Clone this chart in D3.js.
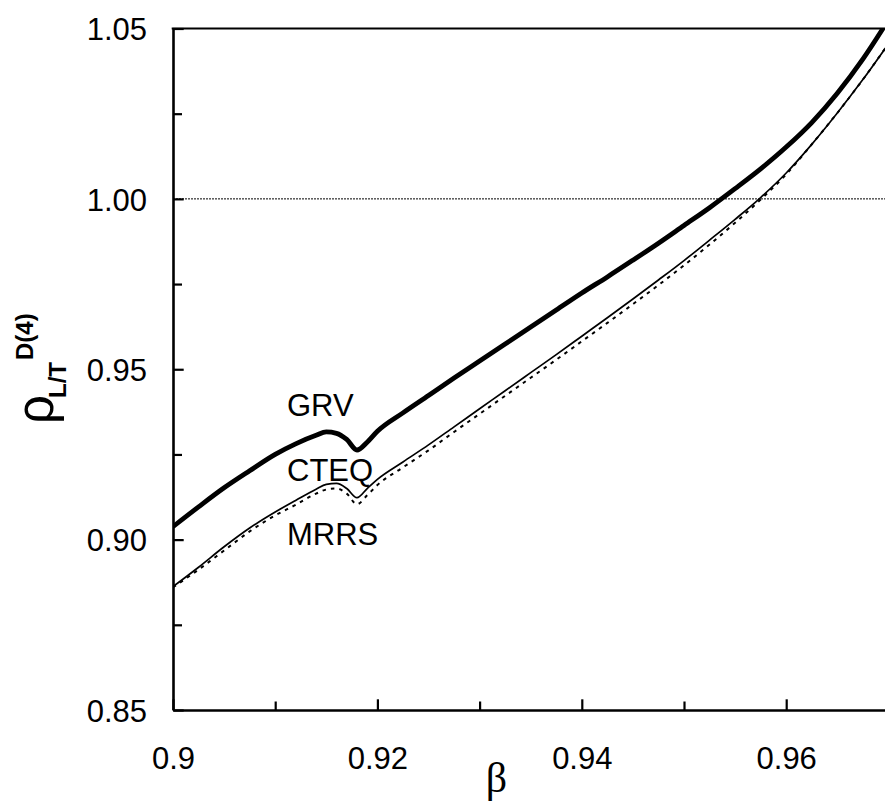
<!DOCTYPE html>
<html>
<head>
<meta charset="utf-8">
<script src="https://cdn.jsdelivr.net/npm/d3@7"></script>
<style>
  html, body { margin: 0; padding: 0; background: #fff; }
  svg { display: block; }
</style>
</head>
<body>
<svg id="chart" width="885" height="807"></svg>
<script>
// ---------------- data ----------------
const beta = [0.900, 0.9025, 0.905, 0.9075, 0.910, 0.912, 0.914, 0.915, 0.916, 0.917, 0.918, 0.919, 0.920,
  0.9225, 0.925, 0.9275, 0.930, 0.9325, 0.935, 0.9375, 0.940, 0.9425, 0.945, 0.9475, 0.950, 0.9525,
  0.955, 0.9575, 0.960, 0.9625, 0.965, 0.9675, 0.970];

const grv = [0.9038, 0.9096, 0.9152, 0.9202, 0.9250, 0.9281, 0.9306, 0.9316, 0.9312, 0.9294, 0.9263, 0.9286, 0.9318,
  0.9372, 0.9423, 0.9474, 0.9524, 0.9574, 0.9624, 0.9674, 0.9724, 0.9771, 0.9820, 0.9870, 0.9922, 0.9974,
  1.0030, 1.0088, 1.0152, 1.0224, 1.0310, 1.0410, 1.0525];

const cteq = [0.8862, 0.8919, 0.8979, 0.9034, 0.9081, 0.9115, 0.9148, 0.9162, 0.9165, 0.9150, 0.9123, 0.9150, 0.9177,
  0.9228, 0.9278, 0.9331, 0.9384, 0.9437, 0.9490, 0.9543, 0.9597, 0.9651, 0.9706, 0.9762, 0.9819, 0.9879,
  0.9940, 1.0004, 1.0076, 1.0160, 1.0252, 1.0350, 1.0455];

const mrrs = [0.8860, 0.8912, 0.8968, 0.9024, 0.9071, 0.9102, 0.9135, 0.9147, 0.9150, 0.9135, 0.9104, 0.9130, 0.9160,
  0.9212, 0.9262, 0.9316, 0.9369, 0.9422, 0.9475, 0.9528, 0.9582, 0.9636, 0.9691, 0.9747, 0.9805, 0.9866,
  0.9930, 0.9998, 1.0072, 1.0160, 1.0252, 1.0350, 1.0455];

const seriesNames = ["GRV", "CTEQ", "MRRS"];
const xTicks = [0.90, 0.92, 0.94, 0.96];
const xTickLabels = ["0.9", "0.92", "0.94", "0.96"];
const xMinorTicks = [0.91, 0.93, 0.95];
const yTicks = [0.85, 0.90, 0.95, 1.00, 1.05];
const yTickLabels = ["0.85", "0.90", "0.95", "1.00", "1.05"];
const yMinorTicks = [0.875, 0.925, 0.975, 1.025];
const refValue = 1.00;

// ---------------- layout ----------------
const svg = d3.select("#chart");
const pL = 173, pR = 888.4, pT = 28.5, pB = 710;
const x = d3.scaleLinear().domain([0.90, 0.97]).range([pL, pR]);
const y = d3.scaleLinear().domain([0.85, 1.05]).range([pB, pT]);
const font = "'Liberation Sans', Arial, Helvetica, sans-serif";

svg.append("defs").append("clipPath").attr("id", "plotclip")
  .append("rect").attr("x", pL).attr("y", pT).attr("width", pR - pL).attr("height", pB - pT);

// reference line at 1.00
svg.append("line")
  .attr("x1", pL).attr("x2", pR)
  .attr("y1", y(refValue)).attr("y2", y(refValue))
  .attr("stroke", "#000").attr("stroke-width", 1).attr("stroke-dasharray", "2,1");

// curves
const line = d3.line().x((d, i) => x(beta[i])).y(d => y(d)).curve(d3.curveMonotoneX);
const plot = svg.append("g").attr("clip-path", "url(#plotclip)");
plot.append("path").datum(mrrs).attr("d", line)
  .attr("fill", "none").attr("stroke", "#000").attr("stroke-width", 2).attr("stroke-dasharray", "3.5,5");
plot.append("path").datum(cteq).attr("d", line)
  .attr("fill", "none").attr("stroke", "#000").attr("stroke-width", 1.7);
plot.append("path").datum(grv).attr("d", line)
  .attr("fill", "none").attr("stroke", "#000").attr("stroke-width", 4.8);

// x axis
const xAxis = svg.append("g").attr("transform", `translate(0,${pB})`)
  .call(d3.axisBottom(x).tickValues(xTicks).tickFormat((d, i) => xTickLabels[i])
    .tickSize(-10.7).tickSizeOuter(0).tickPadding(36.7));
const xMinor = svg.append("g").attr("transform", `translate(0,${pB})`)
  .call(d3.axisBottom(x).tickValues(xMinorTicks).tickFormat("").tickSize(-8.5).tickSizeOuter(0));
xMinor.select(".domain").remove();

// y axis
const yAxis = svg.append("g").attr("transform", `translate(${pL},0)`)
  .call(d3.axisLeft(y).tickValues(yTicks).tickFormat((d, i) => yTickLabels[i])
    .tickSize(-10.7).tickSizeOuter(0).tickPadding(26));
const yMinor = svg.append("g").attr("transform", `translate(${pL},0)`)
  .call(d3.axisLeft(y).tickValues(yMinorTicks).tickFormat("").tickSize(-9).tickSizeOuter(0));
yMinor.select(".domain").remove();

[xAxis, yAxis, xMinor, yMinor].forEach(g => {
  g.selectAll(".domain").attr("stroke", "#000").attr("stroke-width", 2.6);
  g.selectAll(".tick line").attr("stroke", "#000").attr("stroke-width", 2.2);
  g.selectAll("text").attr("font-family", font).attr("font-size", 31).attr("fill", "#000");
});
yAxis.selectAll(".tick text").attr("dy", "0.36em");

// top border
svg.append("line").attr("x1", pL - 1.3).attr("x2", pR)
  .attr("y1", pT).attr("y2", pT).attr("stroke", "#000").attr("stroke-width", 2.2);

// series labels
const labelPos = [[287, 416], [287, 481], [287, 545]];
svg.selectAll(".slabel").data(seriesNames).enter().append("text")
  .attr("class", "slabel")
  .attr("x", (d, i) => labelPos[i][0]).attr("y", (d, i) => labelPos[i][1])
  .attr("font-family", font).attr("font-size", 31).attr("fill", "#000")
  .text(d => d);

// x axis title
svg.append("text").attr("x", 496.5).attr("y", 792).attr("text-anchor", "middle")
  .attr("font-family", "'Liberation Serif', 'Times New Roman', serif").attr("font-size", 42)
  .text("β");

// y axis title (rotated)
const yt = svg.append("g").attr("transform", "translate(53,424) rotate(-90)");
yt.append("text").attr("x", 0).attr("y", 0)
  .attr("font-family", font).attr("font-size", 51).text("ρ");
yt.append("text").attr("x", 26).attr("y", 13)
  .attr("font-family", font).attr("font-size", 24).attr("font-weight", "bold").text("L/T");
yt.append("text").attr("x", 64).attr("y", -20)
  .attr("font-family", font).attr("font-size", 24).attr("font-weight", "bold").text("D(4)");
</script>
</body>
</html>
